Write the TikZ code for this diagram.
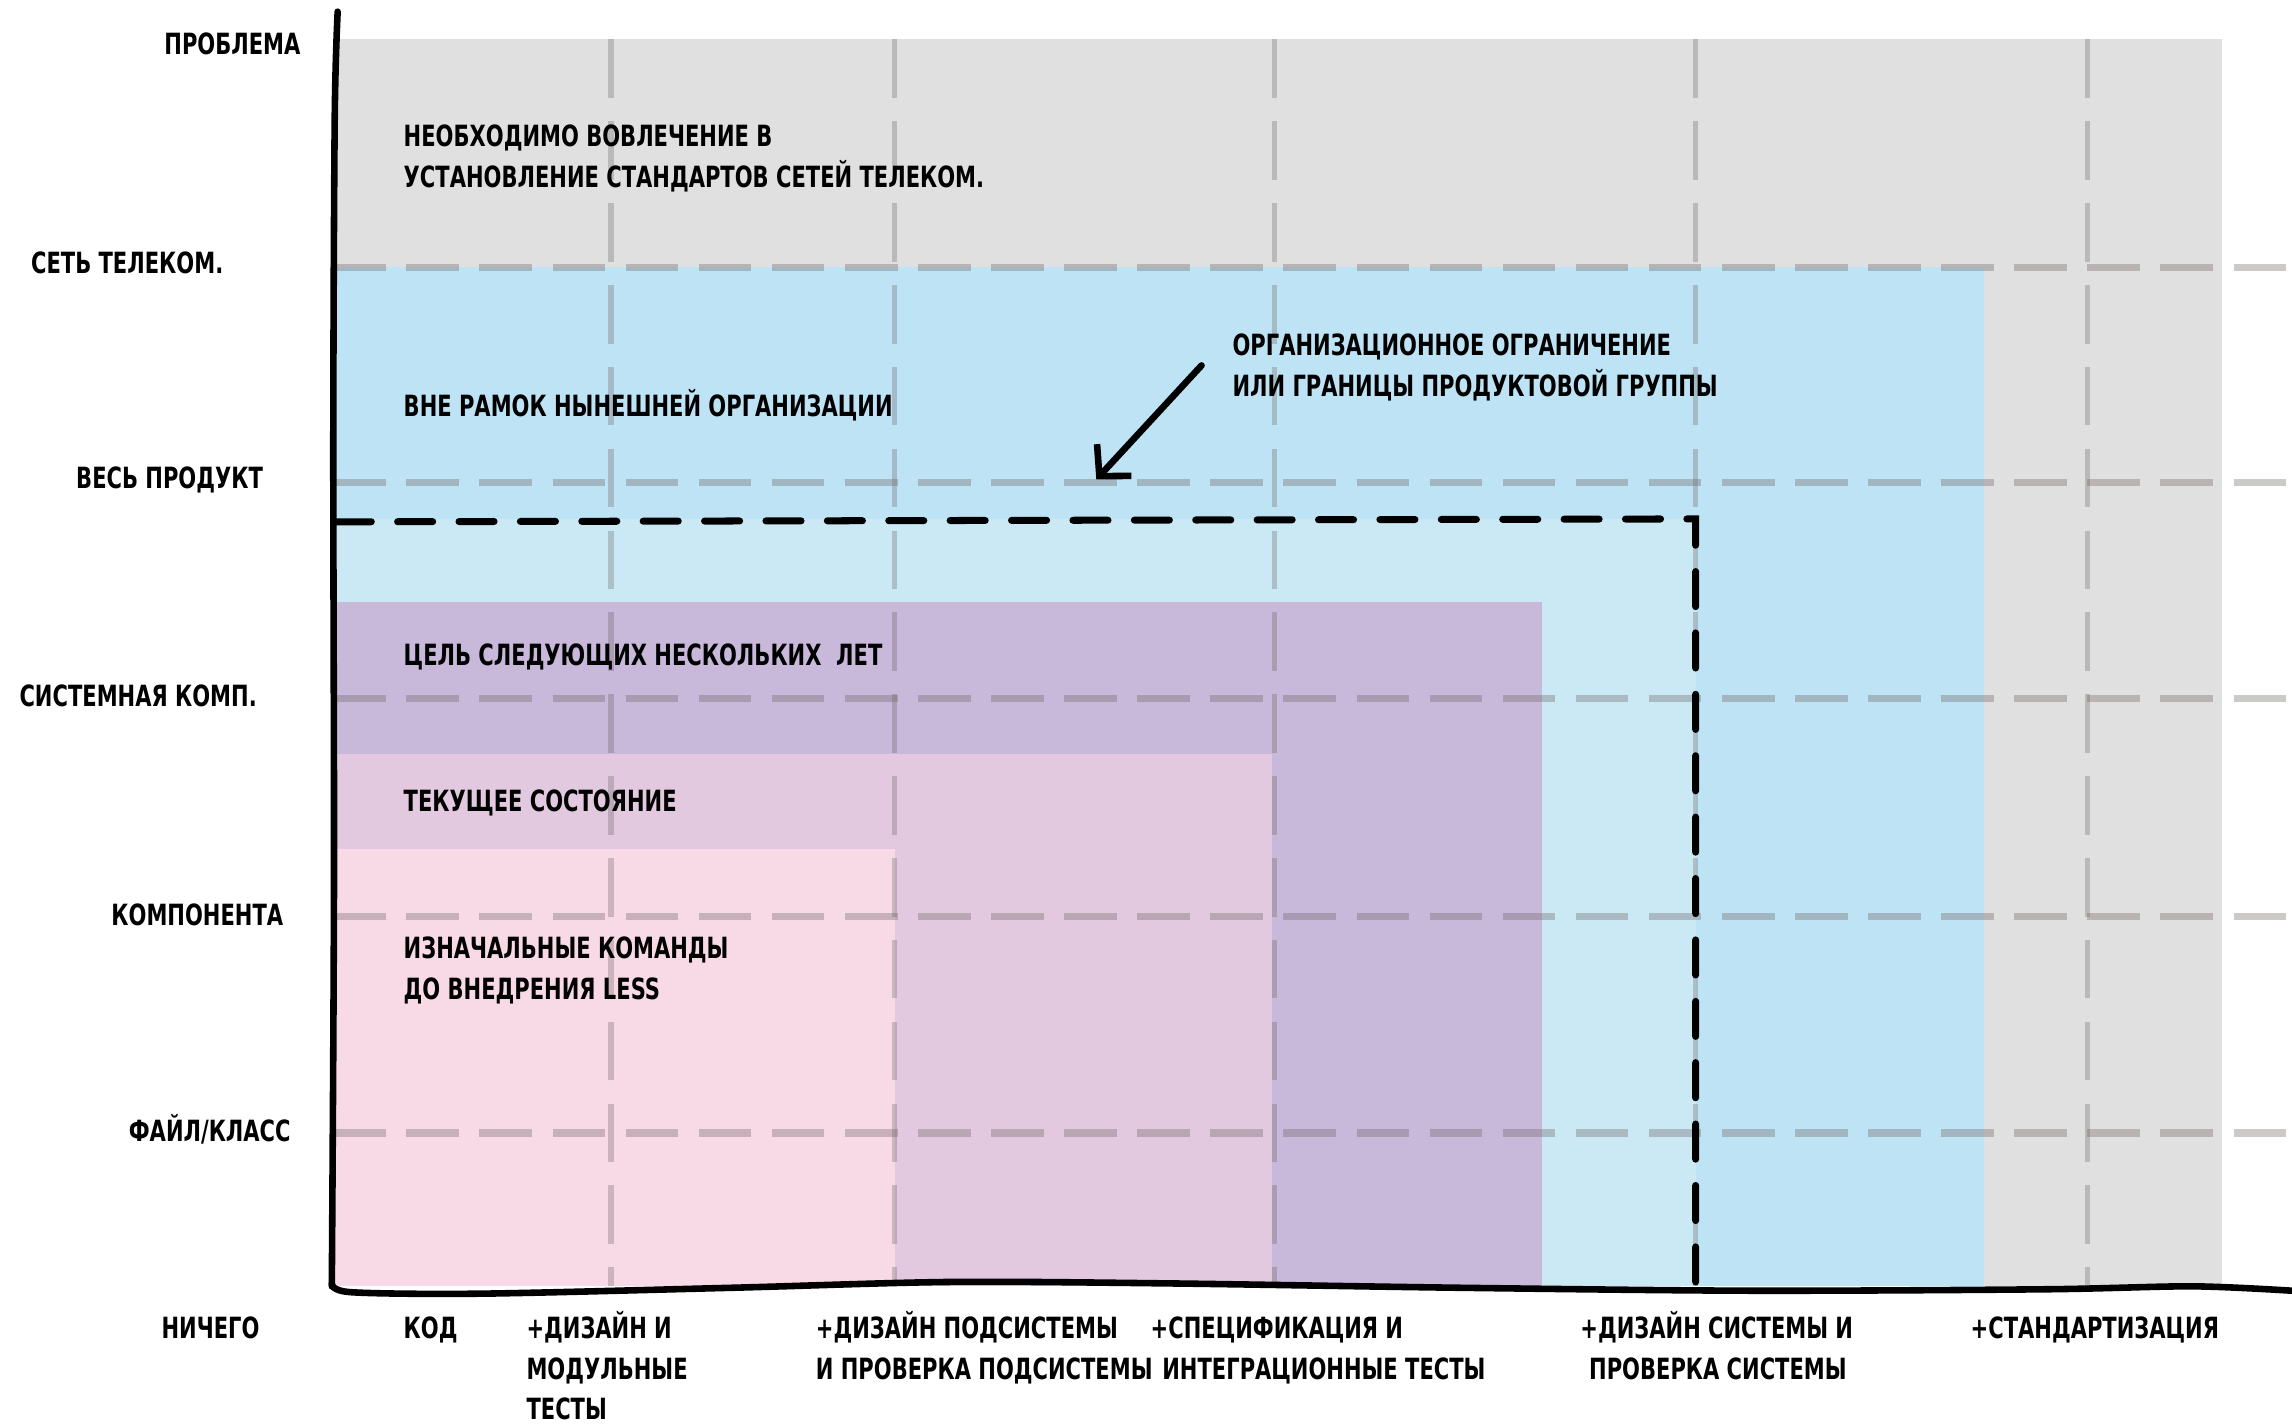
\documentclass[tikz,border=0pt]{standalone}
\usepackage{fontspec}
\newfontfamily\hand[FakeStretch=0.80]{DejaVu Sans Condensed Bold}
\usetikzlibrary{arrows.meta}
\definecolor{cgray}{RGB}{224,224,224}
\definecolor{cblue}{RGB}{190,227,245}
\definecolor{clblue}{RGB}{202,233,245}
\definecolor{cpurple}{RGB}{200,184,218}
\definecolor{cmauve}{RGB}{226,201,224}
\definecolor{cpink}{RGB}{248,218,231}
\definecolor{gridc}{RGB}{110,100,100}
\begin{document}
\begin{tikzpicture}[x=1pt,y=-1pt,
  lbl/.style={font=\hand\fontsize{20}{28}\selectfont, inner sep=0pt, anchor=base west},
  axlbl/.style={lbl, anchor=base},
  gridh/.style={draw=gridc, draw opacity=0.35, line width=5pt, dash pattern=on 36pt off 14pt},
  gridv/.style={draw=gridc, draw opacity=0.32, line width=3.5pt, dash pattern=on 40pt off 16pt},
  axisline/.style={line width=4.5pt, line cap=round, line join=round},
  bound/.style={line width=4.8pt, line cap=round, dash pattern=on 24pt off 18pt}
]
\useasboundingbox (0,0) rectangle (1568,974);
% regions
\fill[cgray] (228,27) rectangle (1520,880);
\fill[cblue] (228,183) rectangle (1357,880);
\fill[clblue] (228,355) rectangle (1160,880);
\fill[cpurple] (228,412) rectangle (1055,880);
\fill[cmauve] (228,516) rectangle (870,880);
\fill[cpink] (228,581) rectangle (612,880);
% grid
\foreach \y in {183,330,478,627,775} \draw[gridh] (228,\y) -- (1568,\y);
\foreach \x in {418,612,872,1160,1428} \draw[gridv] (\x,27) -- (\x,880);
% axes
\draw[axisline] plot[smooth] coordinates {(231,8) (229,80) (228,300) (228.5,600) (227,880)};
\draw[axisline] plot[smooth] coordinates {(227,878) (240,884) (330,885) (500,881) (650,877) (800,878) (1000,881) (1200,883) (1400,882) (1500,880) (1568,883)};
% organisational boundary
\draw[bound] (230,357) -- (1160,355) -- (1160,880);
% arrow
\coordinate (as) at (822,250);
\coordinate (ae) at (750,328);
\draw[line width=4.5pt, line cap=round, -{Straight Barb[length=15pt,width=32pt,line width=4.5pt]}] (as) -- (ae);
% y labels
\node[axlbl] (yl1) at (159,37) {ПРОБЛЕМА};
\node[axlbl] (yl2) at (87,187) {СЕТЬ ТЕЛЕКОМ.};
\node[axlbl] (yl3) at (116,334) {ВЕСЬ ПРОДУКТ};
\node[axlbl] (yl4) at (94.5,483) {СИСТЕМНАЯ КОМП.};
\node[axlbl] (yl5) at (135,633) {КОМПОНЕНТА};
\node[axlbl] (yl6) at (143.5,781) {ФАЙЛ/КЛАСС};
% x labels
\node[axlbl] (xl0) at (144,916) {НИЧЕГО};
\node[lbl] (xl1) at (276,916) {КОД};
\node[lbl] (xl2a) at (360,916) {+ДИЗАЙН И};
\node[lbl] (xl2b) at (360,944) {МОДУЛЬНЫЕ};
\node[lbl] (xl2c) at (360,971) {ТЕСТЫ};
\node[lbl] (xl3a) at (558,916) {+ДИЗАЙН ПОДСИСТЕМЫ};
\node[lbl] (xl3b) at (558,944) {И ПРОВЕРКА ПОДСИСТЕМЫ};
\node[lbl] (xl4a) at (787,916) {+СПЕЦИФИКАЦИЯ И};
\node[lbl] (xl4b) at (795,944) {ИНТЕГРАЦИОННЫЕ ТЕСТЫ};
\node[lbl] (xl5a) at (1081,916) {+ДИЗАЙН СИСТЕМЫ И};
\node[lbl] (xl5b) at (1087,944) {ПРОВЕРКА СИСТЕМЫ};
\node[lbl] (xl6) at (1348,916) {+СТАНДАРТИЗАЦИЯ};
% region texts
\node[lbl] (r1a) at (276,100) {НЕОБХОДИМО ВОВЛЕЧЕНИЕ В};
\node[lbl] (r1b) at (276,128) {УСТАНОВЛЕНИЕ СТАНДАРТОВ СЕТЕЙ ТЕЛЕКОМ.};
\node[lbl] (r2) at (276,285) {ВНЕ РАМОК НЫНЕШНЕЙ ОРГАНИЗАЦИИ};
\node[lbl] (ba) at (843,243) {ОРГАНИЗАЦИОННОЕ ОГРАНИЧЕНИЕ};
\node[lbl] (bb) at (843,271) {ИЛИ ГРАНИЦЫ ПРОДУКТОВОЙ ГРУППЫ};
\node[lbl] (r3) at (276,455) {ЦЕЛЬ СЛЕДУЮЩИХ НЕСКОЛЬКИХ\ \ ЛЕТ};
\node[lbl] (r4) at (276,555) {ТЕКУЩЕЕ СОСТОЯНИЕ};
\node[lbl] (r5a) at (276,656) {ИЗНАЧАЛЬНЫЕ КОМАНДЫ};
\node[lbl] (r5b) at (276,684) {ДО ВНЕДРЕНИЯ LESS};
\end{tikzpicture}
\end{document}
